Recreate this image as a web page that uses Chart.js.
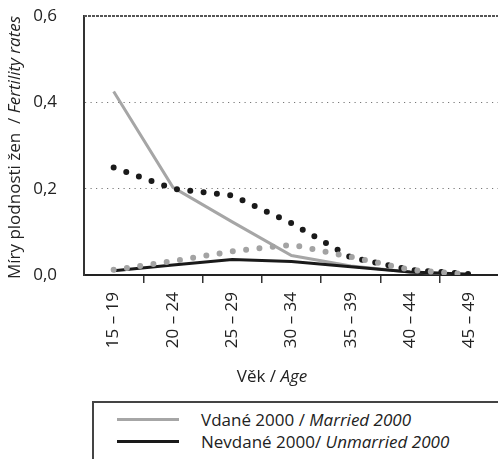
<!DOCTYPE html>
<html lang="cs">
<head>
<meta charset="utf-8">
<title>Míry plodnosti žen</title>
<script src="https://cdn.jsdelivr.net/npm/chart.js@4.4.1/dist/chart.umd.min.js"></script>
<style>
    html, body { margin: 0; padding: 0; background: #fff; overflow: hidden; }
    body { width: 498px; height: 459px; position: relative; font-family: "Open Sans", sans-serif; color: #222; }
    #wrap { position: absolute; left: 0; top: 0; width: 510px; height: 400px; }
    #legend { position: absolute; left: 92px; top: 401px; width: 440px; height: 120px; border: 2px solid #444; box-sizing: border-box; }
    #legend .item { position: absolute; left: 0; height: 22px; display: flex; align-items: center; font-size: 17px; white-space: nowrap; }
    #legend .swatch { width: 62px; height: 3px; margin-left: 23px; margin-right: 22px; }
</style>
</head>
<body>
<div id="wrap"><canvas id="fertilityChart"></canvas></div>
<div id="legend"></div>

<script>
// věkové skupiny a míry plodnosti
const ageGroups = ["15 – 19", "20 – 24", "25 – 29", "30 – 34", "35 – 39", "40 – 44", "45 – 49"];
const married2000 = [0.425, 0.203, 0.123, 0.045, 0.021, 0.007, 0.001];
const unmarried2000 = [0.010, 0.023, 0.036, 0.031, 0.019, 0.007, 0.002];
const dottedBlack = [0.249, 0.200, 0.184, 0.120, 0.041, 0.012, 0.002];
const dottedGray = [0.012, 0.032, 0.055, 0.070, 0.042, 0.012, 0.001];
const yTicks = [0, 0.2, 0.4, 0.6];

const FONT = '"Open Sans", sans-serif';
const xTitleParts = [
    { text: "Věk / ", font: `17px ${FONT}` },
    { text: "Age", font: `italic 17px ${FONT}` }
];
const yTitleParts = [
    { text: "Míry plodnosti žen  / ", font: `17px ${FONT}` },
    { text: "Fertility rates", font: `italic 17px ${FONT}` }
];
const legendRows = [
    { cz: "Vdané 2000 / ", en: "Married 2000", color: "#a6a6a6" },
    { cz: "Nevdané 2000/ ", en: "Unmarried 2000", color: "#1a1a1a" }
];

Chart.defaults.font.family = FONT;
Chart.defaults.font.size = 17;
Chart.defaults.color = "#222";

function drawParts(ctx, parts, cx, cy) {
    const widths = parts.map(p => {
        ctx.font = p.font;
        return ctx.measureText(p.text).width;
    });
    let x = cx - widths.reduce((a, b) => a + b, 0) / 2;
    ctx.textAlign = "left";
    parts.forEach((p, i) => {
        ctx.font = p.font;
        ctx.fillText(p.text, x, cy);
        x += widths[i];
    });
}

// titulky os (část kurzívou)
const axisTitles = {
    id: "axisTitles",
    afterDraw(chart) {
        const { ctx, chartArea } = chart;
        ctx.save();
        ctx.fillStyle = "#222";
        ctx.textBaseline = "middle";
        drawParts(ctx, xTitleParts, chartArea.left + 188, chartArea.bottom + 102);
        ctx.translate(15, (chartArea.top + chartArea.bottom) / 2 + 2);
        ctx.rotate(-Math.PI / 2);
        drawParts(ctx, yTitleParts, 0, 0);
        ctx.restore();
    }
};

// horní okraj grafu
const topRule = {
    id: "topRule",
    beforeDatasetsDraw(chart) {
        const { ctx, chartArea, scales } = chart;
        const y = scales.y.getPixelForValue(yTicks[yTicks.length - 1]);
        ctx.save();
        ctx.strokeStyle = "#555";
        ctx.lineWidth = 2;
        ctx.setLineDash([3, 1]);
        ctx.beginPath();
        ctx.moveTo(chartArea.left, y);
        ctx.lineTo(chartArea.right, y);
        ctx.stroke();
        ctx.restore();
    }
};

function solid(label, data, color, order) {
    return { label, data, borderColor: color, borderWidth: 3, pointRadius: 0, tension: 0, order };
}

function dotted(label, data, color, order) {
    return {
        label, data, borderColor: color, borderWidth: 6, pointRadius: 0, tension: 0, order,
        borderDash: [0, 13.4], borderCapStyle: "round"
    };
}

const chart = new Chart(document.getElementById("fertilityChart"), {
    type: "line",
    data: {
        labels: ageGroups,
        datasets: [
            solid("Vdané 2000", married2000, "#a6a6a6", 3),
            solid("Nevdané 2000", unmarried2000, "#1a1a1a", 2),
            dotted("řada 3", dottedBlack, "#1a1a1a", 1),
            dotted("řada 4", dottedGray, "#a3a3a3", 0)
        ]
    },
    options: {
        responsive: true,
        maintainAspectRatio: false,
        animation: false,
        layout: { padding: { top: 16, right: 11, bottom: 0, left: 0 } },
        plugins: { legend: { display: false }, tooltip: { enabled: false } },
        scales: {
            x: {
                type: "category",
                offset: true,
                grid: {
                    offset: true,
                    drawOnChartArea: false,
                    drawTicks: true,
                    tickLength: 8,
                    lineWidth: 1.5,
                    color: c => (c.index > 0 && c.index < ageGroups.length) ? "#333" : "rgba(0,0,0,0)"
                },
                border: { display: true, color: "#222", width: 2 },
                ticks: { minRotation: 90, maxRotation: 90, autoSkip: false, padding: 9 },
                afterFit: s => { s.height = 125; }
            },
            y: {
                min: 0,
                max: 0.6,
                afterBuildTicks: s => { s.ticks = yTicks.map(v => ({ value: v })); },
                grid: {
                    drawTicks: false,
                    lineWidth: 1,
                    color: c => (c.tick && c.tick.value > 0 && c.tick.value < 0.6) ? "#777" : "rgba(0,0,0,0)"
                },
                border: { display: true, color: "#333", width: 2, dash: [1.2, 4.3] },
                ticks: {
                    padding: 27,
                    callback: v => v.toFixed(1).replace(".", ",")
                },
                // pevná šířka osy, bez vnitřního odsazení shora a zdola
                afterFit: s => {
                    s.width = 84;
                    s.paddingTop = 0;
                    s.paddingBottom = 0;
                }
            }
        }
    },
    plugins: [topRule, axisTitles]
});

// legenda jen pro plné čáry
document.getElementById("legend").innerHTML = legendRows.map((r, i) => `
    <div class="item" style="top:${5 + i * 22}px">
        <span class="swatch" style="background:${r.color}"></span>
        <span>${r.cz}<em>${r.en}</em></span>
    </div>
`).join("");
</script>
</body>
</html>
